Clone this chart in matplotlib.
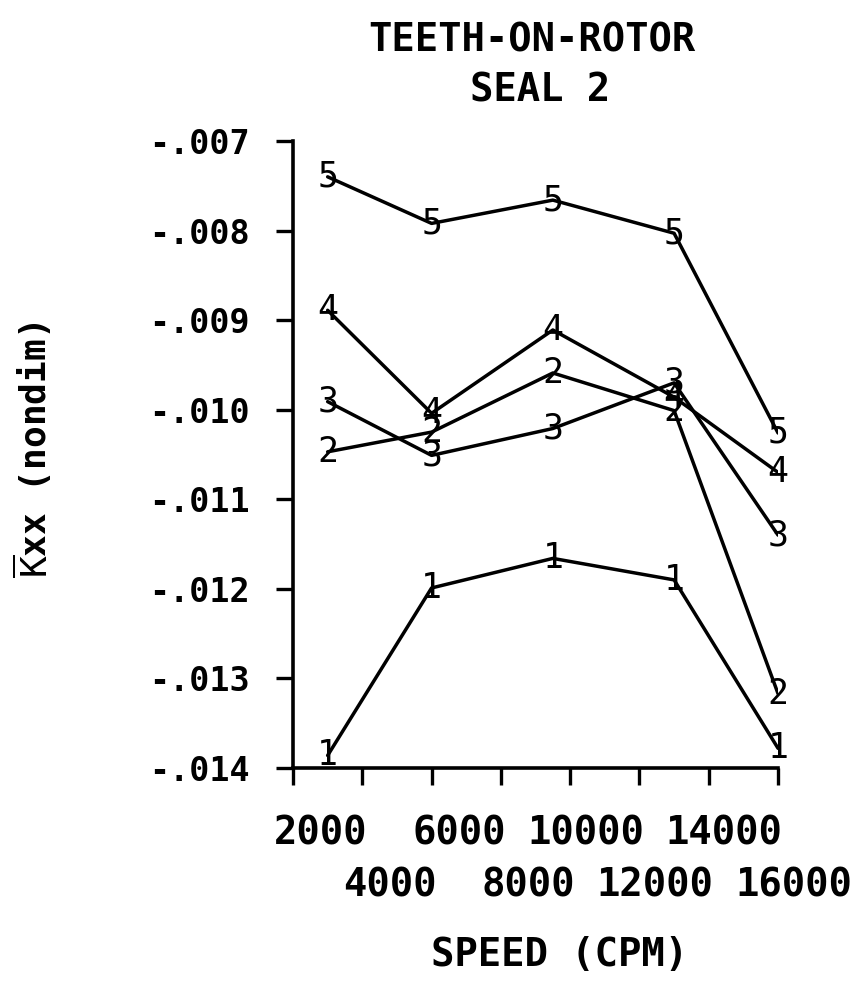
import matplotlib
matplotlib.use('Agg')
import matplotlib.pyplot as plt
from matplotlib.transforms import offset_copy

# speeds (CPM) and nondimensional Kxx for each curve (1..5)
speed = [3000, 6000, 9500, 13000, 16000]
kxx_1 = [-0.01386, -0.01199, -0.01166, -0.01190, -0.01378]
kxx_2 = [-0.01047, -0.01025, -0.00959, -0.01001, -0.01317]
kxx_3 = [-0.00991, -0.01051, -0.01021, -0.00970, -0.01140]
kxx_4 = [-0.00889, -0.01004, -0.00911, -0.00986, -0.01070]
kxx_5 = [-0.00740, -0.00792, -0.00766, -0.00803, -0.01026]
curve_labels = ['1', '2', '3', '4', '5']

x_ticks = [2000, 4000, 6000, 8000, 10000, 12000, 14000, 16000]
y_ticks = [-0.014, -0.013, -0.012, -0.011, -0.010, -0.009, -0.008, -0.007]
y_tick_labels = ['-.014', '-.013', '-.012', '-.011', '-.010', '-.009', '-.008', '-.007']

plt.rcParams['font.family'] = ['DejaVu Sans Mono', 'DejaVu Sans']
plt.rcParams['mathtext.fontset'] = 'dejavusans'

fig = plt.figure(figsize=(8.58, 9.86), dpi=100)
ax = fig.add_axes([0.3415, 0.2211, 0.5653, 0.6359])

for vals, lab in zip([kxx_1, kxx_2, kxx_3, kxx_4, kxx_5], curve_labels):
    ax.plot(speed, vals, color='black', linewidth=2.5, solid_capstyle='round')
    for x, y in zip(speed, vals):
        ax.text(x, y, lab, ha='center', va='center', fontsize=25, color='black')

ax.set_xlim(2000, 16000)
ax.set_ylim(-0.014, -0.007)
ax.spines['top'].set_visible(False)
ax.spines['right'].set_visible(False)
ax.spines['left'].set_linewidth(2.6)
ax.spines['bottom'].set_linewidth(2.6)

ax.set_yticks(y_ticks)
ax.set_yticklabels(y_tick_labels, fontsize=24, fontweight='bold')
ax.set_xticks(x_ticks)
ax.set_xticklabels([])
ax.tick_params(axis='both', direction='out', length=12, width=2.4)
ax.tick_params(axis='y', pad=19)

# x tick labels: two staggered rows, right edge sits to the right of the tick
for i, t in enumerate(x_ticks):
    dy = -66 if i % 2 == 0 else -118
    tr = offset_copy(ax.get_xaxis_transform(), fig=fig, x=74, y=dy, units='dots')
    ax.text(t, 0, str(t), transform=tr, ha='right', va='center',
            fontsize=28, fontweight='bold')

fig.text(532 / 858, 1 - 40 / 986, 'TEETH-ON-ROTOR', ha='center', va='center',
         fontsize=28, fontweight='bold')
fig.text(540 / 858, 1 - 90 / 986, 'SEAL 2', ha='center', va='center',
         fontsize=28, fontweight='bold')
fig.text(560 / 858, 1 - 955 / 986, 'SPEED (CPM)', ha='center', va='center',
         fontsize=28, fontweight='bold')
fig.text(32 / 858, 1 - 450 / 986, r'$\overline{\mathtt{K}}$xx (nondim)', ha='center',
         va='center', rotation=90, fontsize=26, fontweight='bold')

fig.savefig('out.png', dpi=100)
